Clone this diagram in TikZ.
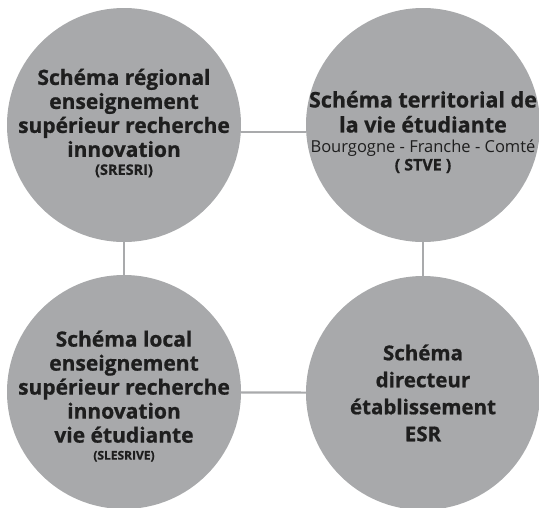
\documentclass[tikz,border=0pt]{standalone}
\usepackage{fontspec}
\setmainfont{Open Sans}[BoldFeatures={FakeBold=0.8}]
\usepackage{tikz}
\usetikzlibrary{calc,positioning}
\definecolor{disc}{HTML}{A8A9AB}
\definecolor{link}{HTML}{A9AAAC}
\definecolor{ink}{HTML}{1E1E1E}

\begin{document}
\begin{tikzpicture}[x=1pt,y=-1pt]

\tikzset{greydisc/.style={shape=circle,fill=disc,inner sep=0pt,minimum size=234pt},
disctext/.style={align=center,text=ink,inner sep=0pt,font=\fontsize{21}{24}\selectfont\bfseries},
linkline/.style={draw=link,line width=2.2pt}}

\useasboundingbox (0,0) rectangle (539,507);

% Discs
\node[greydisc] (c1) at (124,125) {};
\node[greydisc] (c2) at (423,125) {};
\node[greydisc] (c3) at (124,392) {};
\node[greydisc] (c4) at (423,393) {};

% Texts
\node[disctext] (t1) at ($(c1)+(0,-2)$) {Schéma régional\\enseignement\\supérieur recherche\\innovation\\[-6pt]{\fontsize{14.5}{16}\selectfont (SRESRI)}};
\node[disctext,font=\fontsize{21.5}{25}\selectfont\bfseries] (t2) at ($(c2)+(0,7)$) {Schéma territorial de\\la vie étudiante\\[-5pt]{\fontsize{16.5}{18}\selectfont\mdseries Bourgogne - Franche - Comté}\\[-7pt]{\fontsize{16}{18}\selectfont ( STVE )}};
\node[disctext] (t3) at ($(c3)+(0,4)$) {Schéma local\\enseignement\\supérieur recherche\\innovation\\vie étudiante\\[-7pt]{\fontsize{12}{14}\selectfont (SLESRIVE)}};
\node[disctext,font=\fontsize{20.5}{27}\selectfont\bfseries] (t4) at ($(c4)+(0,0)$) {Schéma\\directeur\\établissement\\ESR};

% Links
\draw[linkline] ([yshift=-7pt]c1.east) -- ([yshift=-7pt]c2.west); \draw[linkline] (c1) -- (c3); \draw[linkline] (c2) -- (c4); \draw[linkline] (c3) -- (c4);

\end{tikzpicture}
\end{document}
